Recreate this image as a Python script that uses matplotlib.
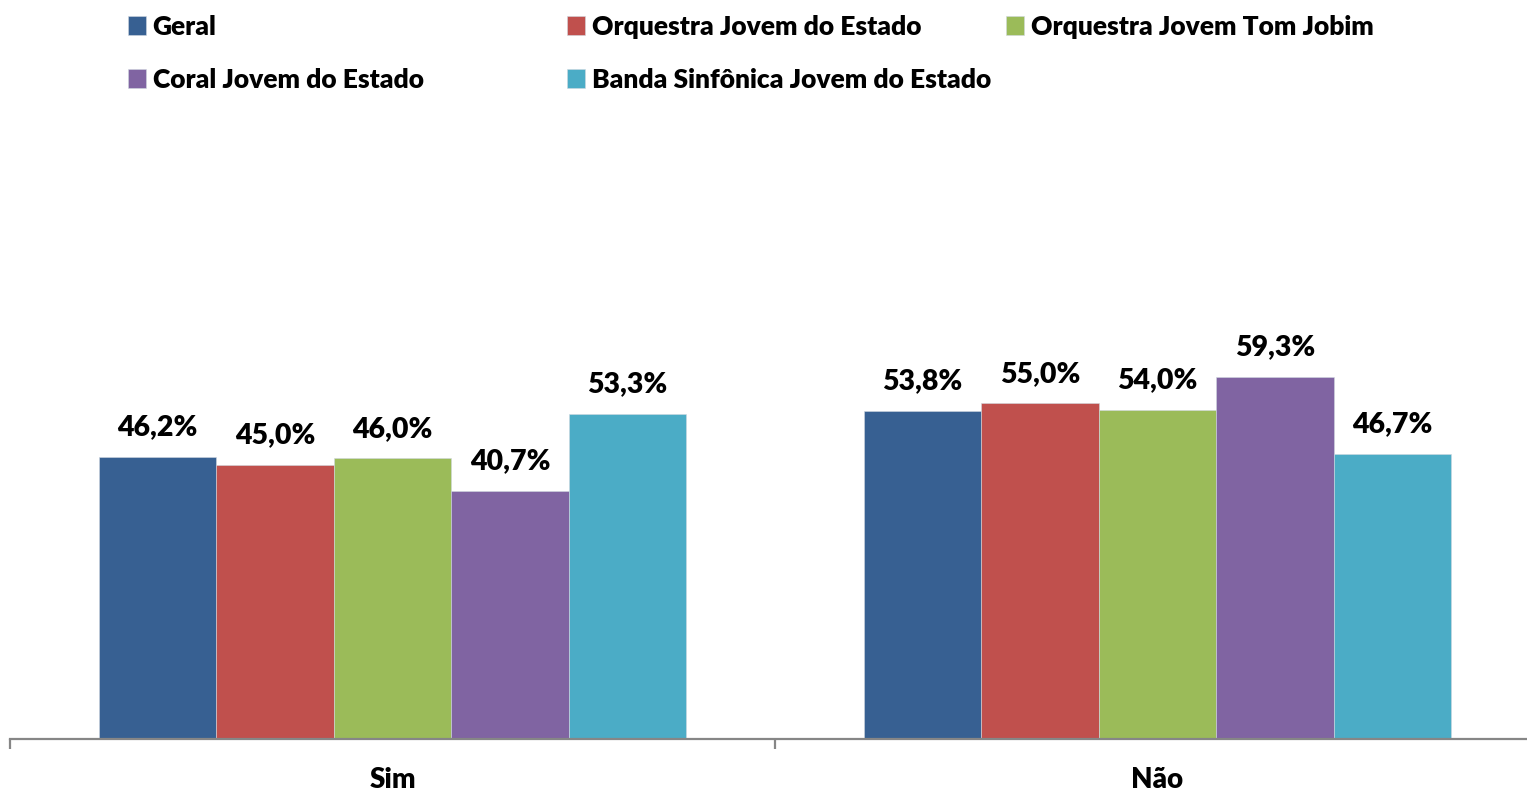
import matplotlib
matplotlib.use("Agg")
import matplotlib.pyplot as plt
import numpy as np

# categories and series
categories = ['Sim', 'Não']
series_names = ['Geral', 'Orquestra Jovem do Estado', 'Orquestra Jovem Tom Jobim',
                'Coral Jovem do Estado', 'Banda Sinfônica Jovem do Estado']
values = [
    [46.2, 53.8],   # Geral
    [45.0, 55.0],   # Orquestra Jovem do Estado
    [46.0, 54.0],   # Orquestra Jovem Tom Jobim
    [40.7, 59.3],   # Coral Jovem do Estado
    [53.3, 46.7],   # Banda Sinfônica Jovem do Estado
]
colors = ['#376092', '#C0504D', '#9BBB59', '#8064A2', '#4BACC6']

plt.rcParams['font.family'] = ['Lato', 'DejaVu Sans']
W = 'heavy'

fig = plt.figure(figsize=(15.27, 7.92), dpi=100)
ax = fig.add_axes([10 / 1527, 53 / 792, 1530 / 1527, 610 / 792])

x = np.arange(len(categories))
bar_width = 0.1537
handles = []
for i, (name, vals) in enumerate(zip(series_names, values)):
    pos = x + (i - 2) * bar_width
    bars = ax.bar(pos, vals, width=bar_width, color=colors[i], label=name,
                  edgecolor='#d0d8e0', linewidth=0.4)
    handles.append(bars)
    for xp, v in zip(pos, vals):
        ax.annotate(f'{v:.1f}%'.replace('.', ','), (xp, v), xytext=(0, 12),
                    textcoords='offset points', ha='center', va='bottom',
                    fontsize=20.5, fontweight=W)

ax.set_xlim(-0.5, 1.5)
ax.set_ylim(0, 100)
ax.set_yticks([])
for s in ['top', 'right', 'left']:
    ax.spines[s].set_visible(False)
ax.spines['bottom'].set_color('#868686')
ax.spines['bottom'].set_linewidth(1.6)

ax.set_xticks(x)
ax.set_xticklabels(categories, fontsize=20, fontweight=W)
ax.tick_params(axis='x', which='major', length=0, pad=20)
ax.set_xticks([-0.5, 0.5, 1.5], minor=True)
ax.tick_params(axis='x', which='minor', length=7, width=1.6, color='#868686',
               direction='out')

# legend laid out as three columns, row-major like the original
col_x = [113 / 1527, 552 / 1527, 991 / 1527]
col_groups = [[0, 3], [1, 4], [2]]
for cx, grp in zip(col_x, col_groups):
    fig.legend([handles[k] for k in grp], [series_names[k] for k in grp],
               loc='upper left', bbox_to_anchor=(cx, 1.0), frameon=False,
               prop={'size': 19, 'weight': W}, handlelength=0.7,
               handleheight=0.7, handletextpad=0.25, labelspacing=1.1,
               borderaxespad=0.15)

fig.savefig('out.png', dpi=100)
